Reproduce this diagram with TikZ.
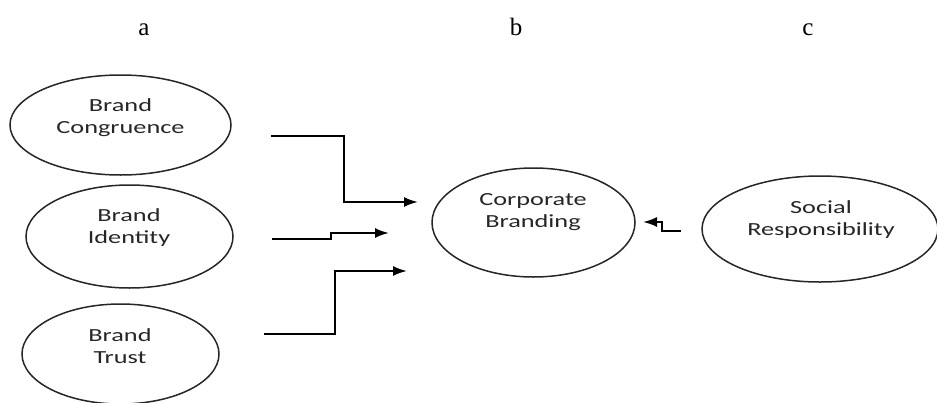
\documentclass[tikz,border=0pt]{standalone}
\usepackage{fontspec}
\newfontfamily\carl[FakeStretch=1.42]{Carlito}
\newfontfamily\tms{Liberation Serif}
\usetikzlibrary{shapes.geometric,arrows.meta}
\begin{document}
\begin{tikzpicture}[x=1pt,y=-1pt,
  ell/.style={draw=black!85,line width=1.5pt,ellipse,inner sep=0pt},
  txt/.style={font=\carl\fontsize{18.5}{22}\selectfont,align=center,anchor=base,inner sep=0pt,text=black!85},
  lbl/.style={font=\tms\fontsize{25}{30}\selectfont,anchor=base,inner sep=0pt},
  conn/.style={line width=2pt,-{Latex[length=14pt,width=10pt]}}]
\useasboundingbox (0,0) rectangle (937,402);
\clip (0,0) rectangle (937,402);
% column labels
\node[lbl] (la) at (144,35) {a};
\node[lbl] (lb) at (516,35) {b};
\node[lbl] (lc) at (808,35) {c};
% ellipses
\node[ell,minimum width=221pt,minimum height=100pt] (bc) at (120.5,125) {};
\node[ell,minimum width=207pt,minimum height=103pt] (bi) at (129.5,236.5) {};
\node[ell,minimum width=197pt,minimum height=100pt] (bt) at (120.5,354) {};
\node[ell,minimum width=203pt,minimum height=109pt] (cb) at (533.5,222.5) {};
\node[ell,minimum width=236pt,minimum height=106pt] (sr) at (820,229) {};
% texts (base anchor = last line's baseline)
\node[txt] (tbc) at (120.5,133) {Brand\\Congruence};
\node[txt] (tbi) at (129,243) {Brand\\Identity};
\node[txt] (tbt) at (120,363) {Brand\\Trust};
\node[txt] (tcb) at (533,227) {Corporate\\Branding};
\node[txt] (tsr) at (821,235) {Social\\Responsibility};
% connector end points
\coordinate (s1) at (271,136);
\coordinate (e1) at (418,202);
\coordinate (s2) at (272,239);
\coordinate (e2) at (389,233);
\coordinate (s3) at (264,334);
\coordinate (e3) at (407,271);
\coordinate (s4) at (681,231);
\coordinate (e4) at (643,222);
% connectors
\draw[conn] (s1) -- (344,136) -- (344,202) -- (e1);
\draw[conn] (s2) -- (331,239) -- (331,233) -- (e2);
\draw[conn] (s3) -- (335,334) -- (335,271) -- (e3);
\draw[conn] (s4) -- (662,231) -- (662,222) -- (e4);
\end{tikzpicture}
\end{document}
